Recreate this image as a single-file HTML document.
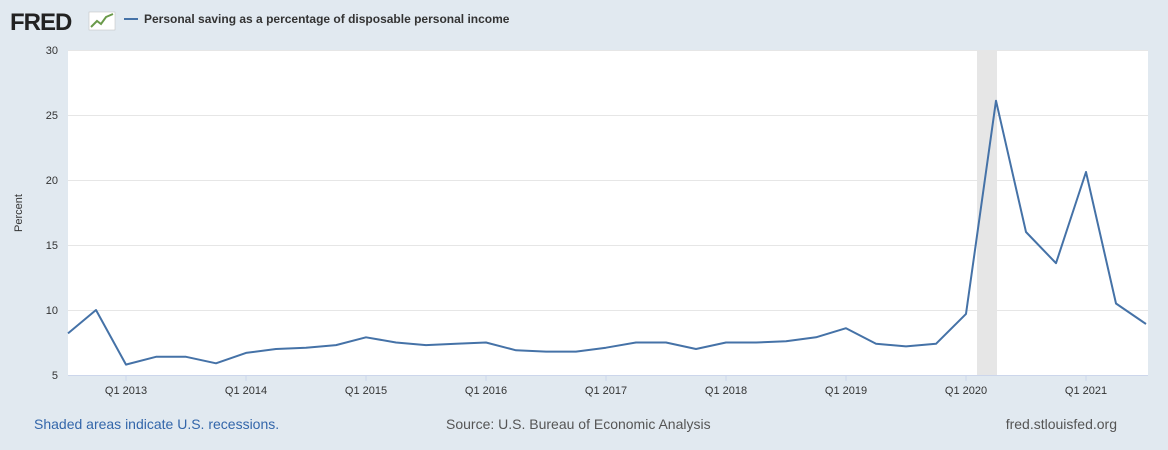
<!DOCTYPE html>
<html><head><meta charset="utf-8"><style>
body{margin:0;background:#e1e9f0;font-family:"Liberation Sans",Arial,sans-serif;overflow:hidden}
</style></head><body>
<svg width="1168" height="450" xmlns="http://www.w3.org/2000/svg" font-family="Liberation Sans, Arial, sans-serif" style="display:block">
<rect width="1168" height="450" fill="#e1e9f0"/>
<text x="10" y="30" font-size="24" font-weight="bold" fill="#222" letter-spacing="-1">FRED</text>
<rect x="89" y="12" width="26" height="18" fill="#fff" stroke="#bbb" stroke-width="0.5"/>
<polyline points="91,27 97,21 101,24 106,17 113,14" fill="none" stroke="#6a9a4a" stroke-width="2"/>
<line x1="124" y1="19" x2="138" y2="19" stroke="#4572a7" stroke-width="2"/>
<text x="144" y="23" font-size="12" font-weight="bold" fill="#333">Personal saving as a percentage of disposable personal income</text>
<rect x="68" y="50" width="1080" height="325" fill="#fff"/>
<rect x="977" y="50" width="20" height="325" fill="#e6e6e6"/>
<g stroke="#e6e6e6" stroke-width="1">
<line x1="68" y1="50.5" x2="1148" y2="50.5"/><line x1="68" y1="115.5" x2="1148" y2="115.5"/>
<line x1="68" y1="180.5" x2="1148" y2="180.5"/><line x1="68" y1="245.5" x2="1148" y2="245.5"/>
<line x1="68" y1="310.5" x2="1148" y2="310.5"/>
</g>
<line x1="68" y1="375.5" x2="1148" y2="375.5" stroke="#ccd6eb"/>
<g font-size="11" fill="#333" text-anchor="end">
<text x="58" y="54">30</text><text x="58" y="119">25</text><text x="58" y="184">20</text>
<text x="58" y="249">15</text><text x="58" y="314">10</text><text x="58" y="379">5</text>
</g>
<text transform="translate(22,213) rotate(-90)" font-size="11" fill="#333" text-anchor="middle">Percent</text>
<g font-size="11" fill="#333" text-anchor="middle">
<text x="126" y="394">Q1 2013</text><text x="246" y="394">Q1 2014</text><text x="366" y="394">Q1 2015</text>
<text x="486" y="394">Q1 2016</text><text x="606" y="394">Q1 2017</text><text x="726" y="394">Q1 2018</text>
<text x="846" y="394">Q1 2019</text><text x="966" y="394">Q1 2020</text><text x="1086" y="394">Q1 2021</text>
</g>
<g stroke="#ccd6eb">
<line x1="126" y1="375" x2="126" y2="381"/><line x1="246" y1="375" x2="246" y2="381"/><line x1="366" y1="375" x2="366" y2="381"/>
<line x1="486" y1="375" x2="486" y2="381"/><line x1="606" y1="375" x2="606" y2="381"/><line x1="726" y1="375" x2="726" y2="381"/>
<line x1="846" y1="375" x2="846" y2="381"/><line x1="966" y1="375" x2="966" y2="381"/><line x1="1086" y1="375" x2="1086" y2="381"/>
</g>
<polyline fill="none" stroke="#4572a7" stroke-width="2" stroke-linejoin="round" points="
68,333.4 96,310 126,364.6 156,356.8 186,356.8 216,363.3 246,352.9 276,349 306,347.7 336,345.1 366,337.3 396,342.5 426,345.1 456,343.8 486,342.5 516,350.3 546,351.6 576,351.6 606,347.7 636,342.5 666,342.5 696,349 726,342.5 756,342.5 786,341.2 816,337.3 846,328.2 876,343.8 906,346.4 936,343.8 966,313.9 996,100.7 1026,232 1056,263.2 1086,172 1116,303.5 1146,324"/>
<text x="34" y="429" font-size="14" fill="#3366aa">Shaded areas indicate U.S. recessions.</text>
<text x="446" y="429" font-size="14" fill="#555">Source: U.S. Bureau of Economic Analysis</text>
<text x="1117" y="429" font-size="14" fill="#555" text-anchor="end">fred.stlouisfed.org</text>
</svg>
</body></html>
